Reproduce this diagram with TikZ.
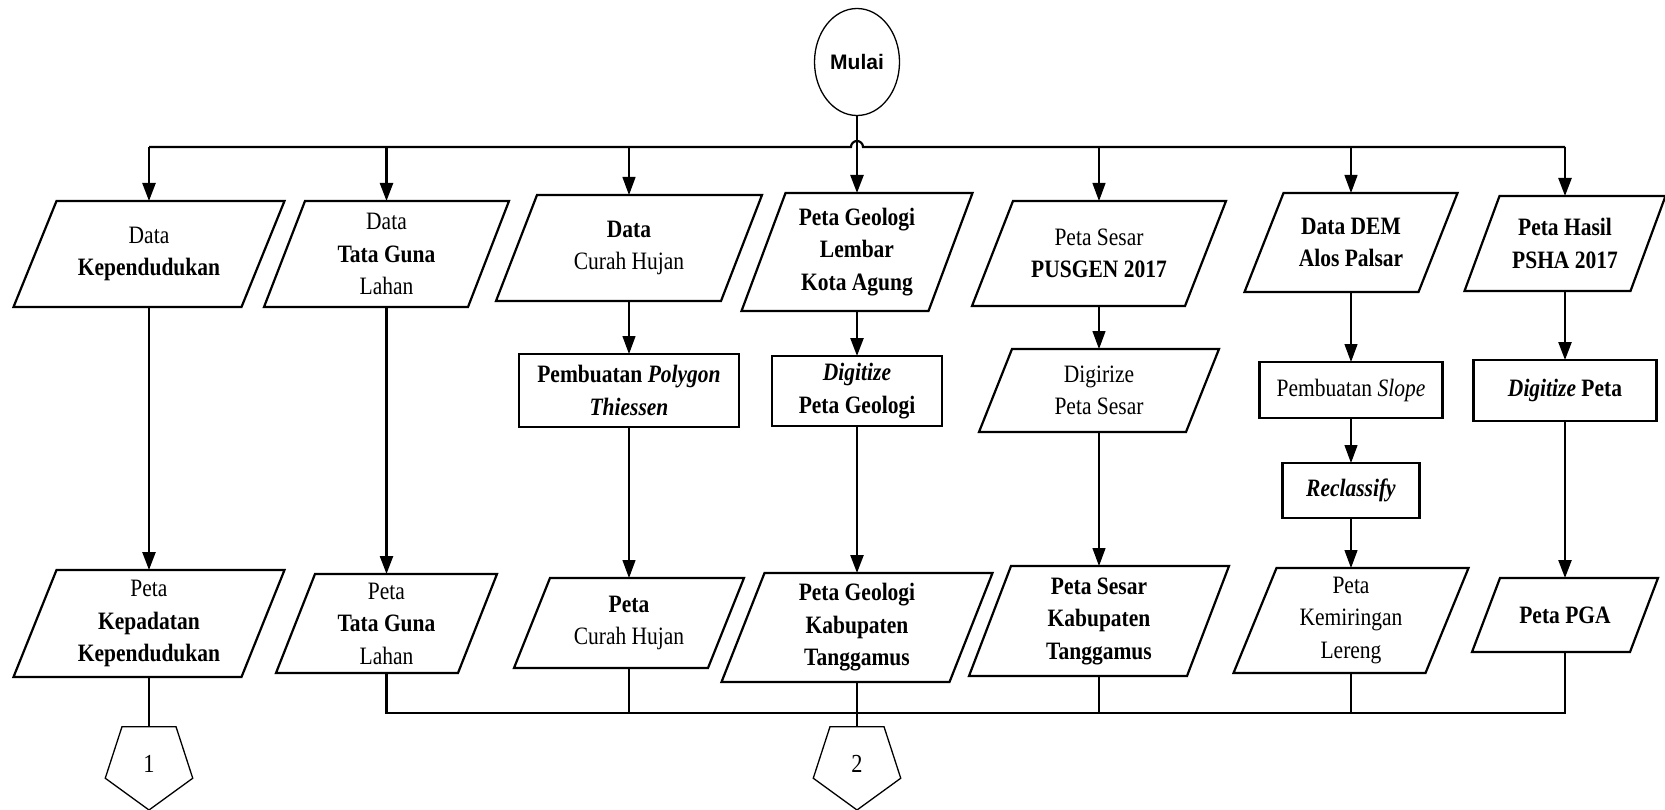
\documentclass[tikz,border=0pt]{standalone}
\usepackage{fontspec}
\setmainfont{Liberation Serif}[FakeStretch=0.86]
\newfontfamily\mulaifont{Liberation Sans}
\usetikzlibrary{arrows.meta,shapes.geometric}

\tikzset{
  txt/.style={font=\fontsize{25}{32.5}\selectfont, align=center, inner sep=0pt, outer sep=0pt},
  boxline/.style={line width=2.2pt, line join=miter},
  procbox/.style={txt, draw, line width=2.2pt},
  arrthick/.style={line width=2.4pt, -{Triangle[length=18pt,width=13pt]}},
  arrthin/.style={line width=1.2pt, -{Triangle[length=18pt,width=13pt]}},
  linethick/.style={line width=2.4pt},
  linethin/.style={line width=1.2pt},
  busline/.style={line width=2.2pt, line join=miter},
  pent/.style={regular polygon, regular polygon sides=5, shape border rotate=180,
    minimum size=92pt, inner sep=0pt, outer sep=0pt, draw, line width=1.3pt,
    font=\fontsize{26}{26}\selectfont},
}

\newcommand\parabox[7]{%
  \node[txt, minimum width=#4pt, minimum height=#5pt] (#1) at (#2,#3) {#7};
  \draw[boxline] ([xshift=#6pt/2]#1.north west) -- ([xshift=#6pt/2]#1.north east)
    -- ([xshift=-#6pt/2]#1.south east) -- ([xshift=-#6pt/2]#1.south west) -- cycle;
}

\begin{document}
\begin{tikzpicture}[x=1pt,y=-1pt]
\fill[white] (0,0) rectangle (1665,810);
\useasboundingbox (0,0) rectangle (1665,810);

% start
\node[draw, ellipse, minimum width=85pt, minimum height=107pt, inner sep=0pt, line width=1.3pt,
  font=\mulaifont\bfseries\fontsize{21}{21}\selectfont] (start) at (857,62) {Mulai};

% top row
\parabox{p1}{149}{254}{228}{106}{43}{Data\\\textbf{Kependudukan}}
\parabox{p2}{386.5}{254}{204}{106}{41}{Data\\\textbf{Tata Guna}\\Lahan}
\parabox{p3}{629}{248}{225}{106}{41}{\textbf{Data}\\Curah Hujan}
\parabox{p4}{857}{252}{187}{118}{44}{\textbf{Peta Geologi}\\\textbf{Lembar}\\\textbf{Kota Agung}}
\parabox{p5}{1099}{253.5}{213}{105}{41}{Peta Sesar\\\textbf{PUSGEN 2017}}
\parabox{p6}{1351}{242.5}{174}{99}{39}{\textbf{Data DEM}\\\textbf{Alos Palsar}}
\parabox{p7}{1565}{243.5}{166}{95}{35}{\textbf{Peta Hasil}\\\textbf{PSHA 2017}}

% middle row
\node[procbox, minimum width=220pt, minimum height=73pt] (m3) at (629,390.5)
  {\textbf{Pembuatan \textit{Polygon}}\\\textbf{\textit{Thiessen}}};
\node[procbox, minimum width=170pt, minimum height=70pt] (m4) at (857,391)
  {\textbf{\textit{Digitize}}\\\textbf{Peta Geologi}};
\parabox{m5}{1099}{390.5}{207}{83}{33}{Digirize\\Peta Sesar}
\node[procbox, minimum width=183pt, minimum height=56pt] (m6) at (1351,390)
  {Pembuatan \textit{Slope}};
\node[procbox, minimum width=137pt, minimum height=55pt] (m6b) at (1351,490.5)
  {\textbf{\textit{Reclassify}}};
\node[procbox, minimum width=183pt, minimum height=61pt] (m7) at (1565,390.5)
  {\textbf{\textit{Digitize} Peta}};

% bottom row
\parabox{q1}{149}{623.5}{228}{107}{43}{Peta\\\textbf{Kepadatan}\\\textbf{Kependudukan}}
\parabox{q2}{386.5}{623.5}{182}{99}{39}{Peta\\\textbf{Tata Guna}\\Lahan}
\parabox{q3}{629}{623}{194}{90}{36}{\textbf{Peta}\\Curah Hujan}
\parabox{q4}{857}{627.5}{228}{109}{43}{\textbf{Peta Geologi}\\\textbf{Kabupaten}\\\textbf{Tanggamus}}
\parabox{q5}{1099}{621}{218}{110}{42}{\textbf{Peta Sesar}\\\textbf{Kabupaten}\\\textbf{Tanggamus}}
\parabox{q6}{1351}{620.5}{192}{105}{43}{Peta\\Kemiringan\\Lereng}
\parabox{q7}{1565}{615}{158}{74}{28}{\textbf{Peta PGA}}

% connectors (off-page)
\node[pent] (e1) at (149,764) {1};
\node[pent] (e2) at (857,764) {2};

% buses
\coordinate (tb) at (0,147);
\coordinate (bb) at (0,713);

\draw[busline] (p1.north |- tb) -- ([xshift=-6pt]start.south |- tb)
  arc[start angle=180, end angle=0, radius=6pt] -- (p7.north |- tb);

\draw[arrthick] (p1.north |- tb) -- (p1.north);
\draw[arrthick] (p2.north |- tb) -- (p2.north);
\draw[arrthin]  (p3.north |- tb) -- (p3.north);
\draw[arrthick] (start.south) -- (p4.north);
\draw[arrthin]  (p5.north |- tb) -- (p5.north);
\draw[arrthin]  (p6.north |- tb) -- (p6.north);
\draw[arrthick] (p7.north |- tb) -- (p7.north);

\draw[arrthick] (p1.south) -- (q1.north);
\draw[arrthick] (p2.south) -- (q2.north);
\draw[arrthin]  (p3.south) -- (m3.north);
\draw[arrthin]  (m3.south) -- (q3.north);
\draw[arrthick] (p4.south) -- (m4.north);
\draw[arrthick] (m4.south) -- (q4.north);
\draw[arrthin]  (p5.south) -- (m5.north);
\draw[arrthin]  (m5.south) -- (q5.north);
\draw[arrthin]  (p6.south) -- (m6.north);
\draw[arrthin]  (m6.south) -- (m6b.north);
\draw[arrthin]  (m6b.south) -- (q6.north);
\draw[arrthick] (p7.south) -- (m7.north);
\draw[arrthick] (m7.south) -- (q7.north);

\draw[linethick] (q1.south) -- (e1.north);
\draw[busline] (q2.south) -- (q2.south |- bb) -- (q7.south |- bb) -- (q7.south);
\draw[linethin] (q3.south) -- (q3.south |- bb);
\draw[linethick] (q4.south) -- (e2.north);
\draw[linethin] (q5.south) -- (q5.south |- bb);
\draw[linethin] (q6.south) -- (q6.south |- bb);
\end{tikzpicture}
\end{document}
